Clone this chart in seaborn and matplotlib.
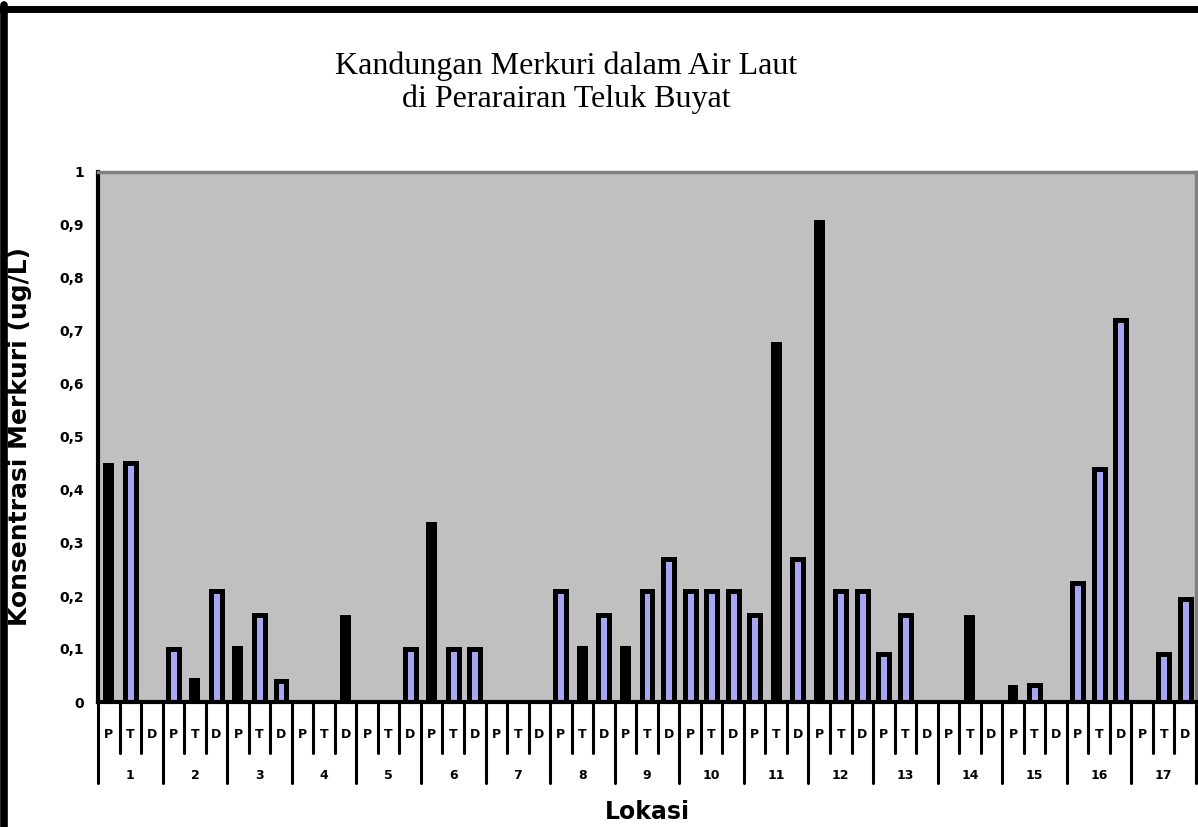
import matplotlib
matplotlib.use("Agg")
import matplotlib.pyplot as plt
import matplotlib.transforms as mtransforms
from matplotlib.lines import Line2D
import numpy as np
import pandas as pd
import seaborn as sns

# data (ug/L), one slot per sub-category, None = no bar
stations = [str(i) for i in range(1, 18)]
depths = ["P", "T", "D"]
seri_hitam = [0.45, None, None, None, 0.045, None, 0.105, None, None, None, None, 0.165,
              None, None, None, 0.34, None, None, None, None, None, None, 0.105, None,
              0.105, None, None, None, None, None, None, 0.68, None, 0.91, None, None,
              None, None, None, None, 0.165, None, 0.033, None, None, None, None, None,
              None, None, None]
seri_biru = [None, 0.45, None, 0.10, None, 0.21, None, 0.165, 0.04, None, None, None,
             None, None, 0.10, None, 0.10, 0.10, None, None, None, 0.21, None, 0.165,
             None, 0.21, 0.27, 0.21, 0.21, 0.21, 0.165, None, 0.27, None, 0.21, 0.21,
             0.09, 0.165, None, None, None, None, None, 0.033, None, 0.225, 0.44, 0.72,
             None, 0.09, 0.195]
y_ticks = [0, 0.1, 0.2, 0.3, 0.4, 0.5, 0.6, 0.7, 0.8, 0.9, 1.0]
y_labels = ["0", "0,1", "0,2", "0,3", "0,4", "0,5", "0,6", "0,7", "0,8", "0,9", "1"]

slots = [f"{s}-{d}" for s in stations for d in depths]
rows = []
for slot, h, b in zip(slots, seri_hitam, seri_biru):
    if h is not None:
        rows.append({"slot": slot, "nilai": h, "seri": "hitam"})
    if b is not None:
        rows.append({"slot": slot, "nilai": b, "seri": "biru"})
df = pd.DataFrame(rows)

sns.set_theme(style="white")
plt.rcParams["font.family"] = ["DejaVu Sans"]
plt.rcParams["text.color"] = "black"
plt.rcParams["axes.labelcolor"] = "black"
plt.rcParams["ytick.color"] = "black"

W, H = 1198, 827
fig = plt.figure(figsize=(W / 100, H / 100), dpi=100)
fig.patch.set_facecolor("white")
ax = fig.add_axes([98 / W, (H - 702) / H, (1196 - 98) / W, 530 / H])
ax.set_facecolor("#C0C0C0")

sns.barplot(data=df, x="slot", y="nilai", hue="seri", order=slots,
            hue_order=["hitam", "biru"], palette={"hitam": "#000000", "biru": "#9999FF"},
            dodge=False, width=0.51, legend=False, ax=ax)

# blue bars carry a heavy black border, black bars none
for cont in ax.containers:
    for bar in cont:
        if np.allclose(bar.get_facecolor()[:3], (0, 0, 0)):
            bar.set_linewidth(0)
        else:
            bar.set_edgecolor("black")
            bar.set_linewidth(3.6)

n = len(slots)
ax.set_xlim(-0.5, n - 0.5)
ax.set_ylim(0, 1)
ax.set_yticks(y_ticks)
ax.set_yticklabels(y_labels, fontsize=10, fontweight="bold")
ax.tick_params(axis="y", direction="out", length=6, width=2.2, color="black", pad=4)
ax.set_xticks([])
ax.set_xlabel("")
ax.set_ylabel("Konsentrasi Merkuri (ug/L)", fontsize=18, fontweight="bold")
ax.yaxis.set_label_coords((32 - 98) / 1098, 0.5)

for side in ["left", "bottom"]:
    ax.spines[side].set_color("black")
    ax.spines[side].set_linewidth(3)
for side in ["top", "right"]:
    ax.spines[side].set_color("#808080")
    ax.spines[side].set_linewidth(2.5)

# two-level category axis: separators and labels under the plot
trans = mtransforms.blended_transform_factory(ax.transData, ax.transAxes)
for i in range(n + 1):
    xb = i - 0.5
    depth = -0.153 if i % 3 == 0 else -0.096
    ax.add_line(Line2D([xb, xb], [0, depth], transform=trans, color="black",
                       linewidth=2.2, clip_on=False))
for i, slot in enumerate(slots):
    ax.text(i, -0.062, depths[i % 3], transform=trans, ha="center", va="center",
            fontsize=9, fontweight="bold")
for j, st in enumerate(stations):
    ax.text(3 * j + 1, -0.138, st, transform=trans, ha="center", va="center",
            fontsize=9, fontweight="bold")
ax.text(0.5, -0.208, "Lokasi", transform=ax.transAxes, ha="center", va="center",
        fontsize=17, fontweight="bold")

# title in a serif face like the original
fig.text(566 / W, 1 - 83 / H, "Kandungan Merkuri dalam Air Laut\ndi Perarairan Teluk Buyat",
         ha="center", va="center", fontsize=23, family="Liberation Serif",
         linespacing=1.15, color="black")

# chart frame (top and left edges visible in the crop)
fig.add_artist(Line2D([0, 1], [1 - 8.5 / H, 1 - 8.5 / H], transform=fig.transFigure,
                      color="black", linewidth=5))
fig.add_artist(Line2D([4 / W, 4 / W], [0, 1 - 5 / H], transform=fig.transFigure,
                      color="black", linewidth=5.5))

fig.savefig("out.png", dpi=100)
